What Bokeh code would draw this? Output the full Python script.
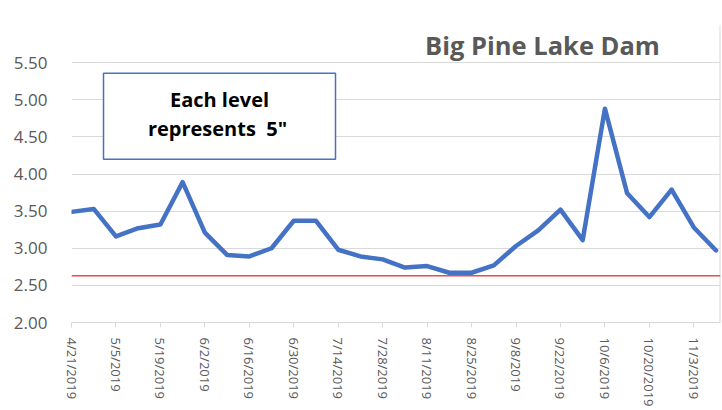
import math
from bokeh.plotting import figure
from bokeh.models import (Range1d, FixedTicker, Span, Label, BoxAnnotation, ColumnDataSource)
from bokeh.embed import file_html
from bokeh.resources import INLINE

# ---- data ----
dates = ["4/21/2019", "4/28/2019", "5/5/2019", "5/12/2019", "5/19/2019", "5/26/2019",
         "6/2/2019", "6/9/2019", "6/16/2019", "6/23/2019", "6/30/2019", "7/7/2019",
         "7/14/2019", "7/21/2019", "7/28/2019", "8/4/2019", "8/11/2019", "8/18/2019",
         "8/25/2019", "9/1/2019", "9/8/2019", "9/15/2019", "9/22/2019", "9/29/2019",
         "10/6/2019", "10/13/2019", "10/20/2019", "10/27/2019", "11/3/2019", "11/10/2019"]
levels = [3.49, 3.53, 3.16, 3.27, 3.32, 3.89, 3.21, 2.91, 2.89, 3.00, 3.37, 3.37,
          2.98, 2.89, 2.85, 2.74, 2.76, 2.67, 2.67, 2.77, 3.03, 3.24, 3.52, 3.11,
          4.88, 3.74, 3.42, 3.79, 3.28, 2.97]
tick_labels = ["4/21/2019", "5/5/2019", "5/19/2019", "6/2/2019", "6/16/2019", "6/30/2019",
               "7/14/2019", "7/28/2019", "8/11/2019", "8/25/2019", "9/8/2019", "9/22/2019",
               "10/6/2019", "10/20/2019", "11/3/2019"]
y_ticks = [2.00, 2.50, 3.00, 3.50, 4.00, 4.50, 5.00, 5.50]
threshold = 2.63
title_text = "Big Pine Lake Dam"
note_lines = ["Each level", "represents\u00a0 5\""]

x_idx = list(range(len(dates)))
tick_pos = [dates.index(t) for t in tick_labels]

FONT = "Open Sans"
GRAY = "#595959"

p = figure(width=722, height=410, output_backend="svg", toolbar_location=None,
           x_range=Range1d(0, 29.2), y_range=Range1d(2.0, 6.0),
           min_border_left=71, min_border_right=2, min_border_top=25, min_border_bottom=88)
p.outline_line_color = None
p.background_fill_color = "white"
p.border_fill_color = "white"

# axes
p.yaxis.ticker = FixedTicker(ticks=y_ticks)
p.yaxis.major_label_overrides = {t: f"{t:.2f}" for t in y_ticks}
p.yaxis.axis_line_color = None
p.yaxis.major_tick_line_color = None
p.yaxis.minor_tick_line_color = None
p.yaxis.major_label_standoff = 18
p.yaxis.major_label_text_font = FONT
p.yaxis.major_label_text_font_size = "17px"
p.yaxis.major_label_text_color = GRAY

p.xaxis.ticker = FixedTicker(ticks=tick_pos)
p.xaxis.major_label_overrides = {i: t for i, t in zip(tick_pos, tick_labels)}
p.xaxis.major_label_orientation = -math.pi / 2
p.xaxis.axis_line_color = "#D9D9D9"
p.xaxis.major_tick_line_color = "#D9D9D9"
p.xaxis.major_tick_in = 0
p.xaxis.major_tick_out = 5
p.xaxis.minor_tick_line_color = None
p.xaxis.major_label_standoff = 10
p.xaxis.major_label_text_font = FONT
p.xaxis.major_label_text_font_size = "13px"
p.xaxis.major_label_text_color = GRAY

p.xgrid.grid_line_color = None
p.ygrid.grid_line_color = "#D9D9D9"
p.ygrid.grid_line_width = 1

# threshold line
p.add_layout(Span(location=threshold, dimension="width", line_color="#F04848", line_width=1.5))

# series
src = ColumnDataSource(dict(x=x_idx, y=levels))
p.line("x", "y", source=src, line_color="#4472C4", line_width=4.5, line_join="round", line_cap="round")

# chart border (frame-relative screen units)
p.add_layout(BoxAnnotation(left=-58, right=649, top=314.3, bottom=-120,
                           left_units="screen", right_units="screen",
                           top_units="screen", bottom_units="screen",
                           fill_color=None, fill_alpha=0, line_color="#D9D9D9", line_alpha=1,
                           line_width=2, level="underlay"))

# note box
p.add_layout(BoxAnnotation(left=32, right=264, top=249.3, bottom=163.3,
                           left_units="screen", right_units="screen",
                           top_units="screen", bottom_units="screen",
                           fill_color="white", fill_alpha=1, line_color="#4472C4", line_alpha=1,
                           line_width=1.5))
p.add_layout(Label(x=148, y=223.3, x_units="screen", y_units="screen", text=note_lines[0],
                   text_align="center", text_baseline="middle", text_font=FONT,
                   text_font_style="bold", text_font_size="20px", text_color="black"))
p.add_layout(Label(x=146, y=194.3, x_units="screen", y_units="screen", text=note_lines[1],
                   text_align="center", text_baseline="middle", text_font=FONT,
                   text_font_style="bold", text_font_size="20px", text_color="black"))

# title
p.add_layout(Label(x=471, y=277.3, x_units="screen", y_units="screen", text=title_text,
                   text_align="center", text_baseline="middle", text_font=FONT,
                   text_font_style="bold", text_font_size="25.5px", text_color=GRAY))

open("out.html", "w").write(file_html(p, INLINE))
